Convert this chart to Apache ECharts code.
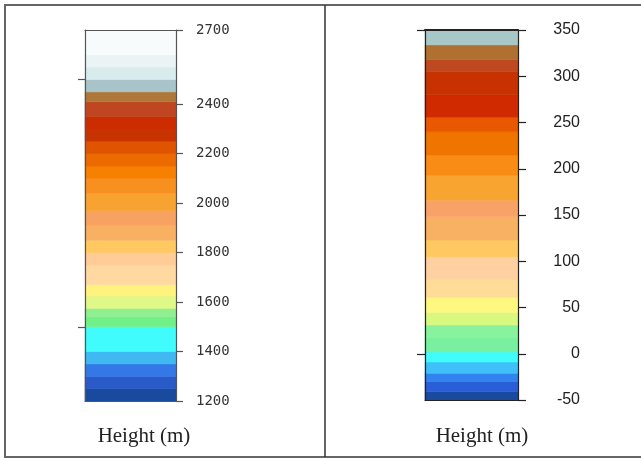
<!DOCTYPE html>
<html>
<head>
<meta charset="utf-8">
<script src="https://cdn.jsdelivr.net/npm/echarts@6/dist/echarts.min.js"></script>
<style>
  html, body { margin: 0; padding: 0; background: #fff; }
  #chart { width: 641px; height: 459px; }
</style>
</head>
<body>
<div id="chart"></div>
<script>
// left colour bar (height, m): band edges and fills
const leftLow  = [1200, 1250, 1300, 1350, 1400, 1500, 1540, 1575, 1625, 1670, 1750, 1800, 1850, 1910, 1970, 2040, 2100, 2150, 2200, 2250, 2300, 2350, 2410, 2450, 2500, 2550, 2600]
const leftHigh = [1250, 1300, 1350, 1400, 1500, 1540, 1575, 1625, 1670, 1750, 1800, 1850, 1910, 1970, 2040, 2100, 2150, 2200, 2250, 2300, 2350, 2410, 2450, 2500, 2550, 2600, 2700]
const leftColors = [
  '#1a4a9e', '#2a5ac8', '#3478e8', '#40b8f2', '#40fcfc', '#70f088', '#90f090', '#e0f888', '#fff27e',
  '#ffd8a2', '#ffcc98', '#ffc860', '#f8b062', '#f8a262', '#f8a232', '#f89020', '#f88000', '#ec6a00',
  '#e05400', '#c83400', '#cc2c00', '#c04622', '#b07838', '#a8c4c8', '#d8ecee', '#eaf4f5', '#f8fbfc',
]
const leftTicks = [1200, 1400, 1600, 1800, 2000, 2200, 2400, 2700]
const leftSideTicks = [1500, 2500]

// right colour bar
const rightLow  = [-50, -41, -30, -21, -9, 2, 17, 31, 45, 61, 80, 105, 123, 148, 166, 193, 215, 240, 256, 280, 305, 318, 334]
const rightHigh = [-41, -30, -21, -9, 2, 17, 31, 45, 61, 80, 105, 123, 148, 166, 193, 215, 240, 256, 280, 305, 318, 334, 350]
const rightColors = [
  '#1a4a9e', '#2a5ed6', '#3282f0', '#40c0f8', '#40fcfc', '#78f0a0', '#88f29c', '#d8f880', '#fff880',
  '#ffdc98', '#ffd0a0', '#ffc860', '#f8b062', '#f8a268', '#f8a430', '#f88c14', '#f07400', '#e85800',
  '#d02a00', '#c83200', '#c04820', '#b07030', '#a8c8c8',
]
const rightTicks = [-50, 0, 50, 100, 150, 200, 250, 300, 350]
const rightSideTicks = [0, 350]

function bands(lows, highs, colors) {
  return lows.map((lo, i) => ({ value: [lo, highs[i]], itemStyle: { color: colors[i] } }))
}

function renderBand(params, api) {
  const a = api.coord([0, api.value(0)])
  const b = api.coord([1, api.value(1)])
  const c = api.visual('color')
  return {
    type: 'rect',
    shape: { x: a[0], y: b[1], width: b[0] - a[0], height: a[1] - b[1] },
    style: { fill: c, stroke: c, lineWidth: 0.6 },
  }
}

function xAxes(grid, color, topWidth) {
  const base = { type: 'value', gridIndex: grid, min: 0, max: 1, z: 5, axisTick: { show: false }, axisLabel: { show: false }, splitLine: { show: false } }
  return [
    { ...base, position: 'bottom', axisLine: { onZero: false, lineStyle: { color, width: 1.2 } } },
    { ...base, position: 'top', axisLine: { onZero: false, lineStyle: { color, width: topWidth } } },
  ]
}

function yAxis(grid, side, min, max, color, ticks, tickLen, label) {
  return {
    type: 'value', gridIndex: grid, position: side, min, max, z: 5,
    axisLine: { show: true, onZero: false, lineStyle: { color, width: 1.2 } },
    axisTick: { show: true, length: tickLen, customValues: ticks, lineStyle: { color, width: 1.2 } },
    axisLabel: label ? { customValues: ticks, formatter: v => String(v), ...label } : { show: false },
    splitLine: { show: false },
  }
}

const chart = echarts.init(document.getElementById('chart'))
chart.setOption({
  backgroundColor: '#fff',
  animation: false,
  grid: [
    { left: 85, top: 30, width: 91, height: 371 },
    { left: 425, top: 30, width: 93, height: 370 },
  ],
  xAxis: [...xAxes(0, '#555', 1.2), ...xAxes(1, '#222', 2)],
  yAxis: [
    yAxis(0, 'right', 1200, 2700, '#555', leftTicks, 7,
      { margin: 20, color: '#333', fontSize: 14, fontFamily: 'DejaVu Sans Mono' }),
    yAxis(0, 'left', 1200, 2700, '#555', leftSideTicks, 7, null),
    yAxis(1, 'right', -50, 350, '#222', rightTicks, 8,
      { margin: 62, align: 'right', color: '#222', fontSize: 16, fontFamily: 'Liberation Sans' }),
    yAxis(1, 'left', -50, 350, '#222', rightSideTicks, 8, null),
  ],
  series: [
    { type: 'custom', xAxisIndex: 0, yAxisIndex: 0, renderItem: renderBand, data: bands(leftLow, leftHigh, leftColors), z: 1 },
    { type: 'custom', xAxisIndex: 2, yAxisIndex: 2, renderItem: renderBand, data: bands(rightLow, rightHigh, rightColors), z: 1 },
  ],
  graphic: [
    { type: 'rect', shape: { x: 5, y: 5, width: 650, height: 452 }, style: { fill: null, stroke: '#666', lineWidth: 2 }, z: 10 },
    { type: 'line', shape: { x1: 325, y1: 5, x2: 325, y2: 457 }, style: { stroke: '#333', lineWidth: 1.5 }, z: 10 },
    { type: 'text', x: 144, y: 436, style: { text: 'Height (m)', fill: '#222', font: '21px "Liberation Serif"', textAlign: 'center', textVerticalAlign: 'middle' } },
    { type: 'text', x: 482, y: 436, style: { text: 'Height (m)', fill: '#222', font: '21px "Liberation Serif"', textAlign: 'center', textVerticalAlign: 'middle' } },
  ],
})
</script>
</body>
</html>
